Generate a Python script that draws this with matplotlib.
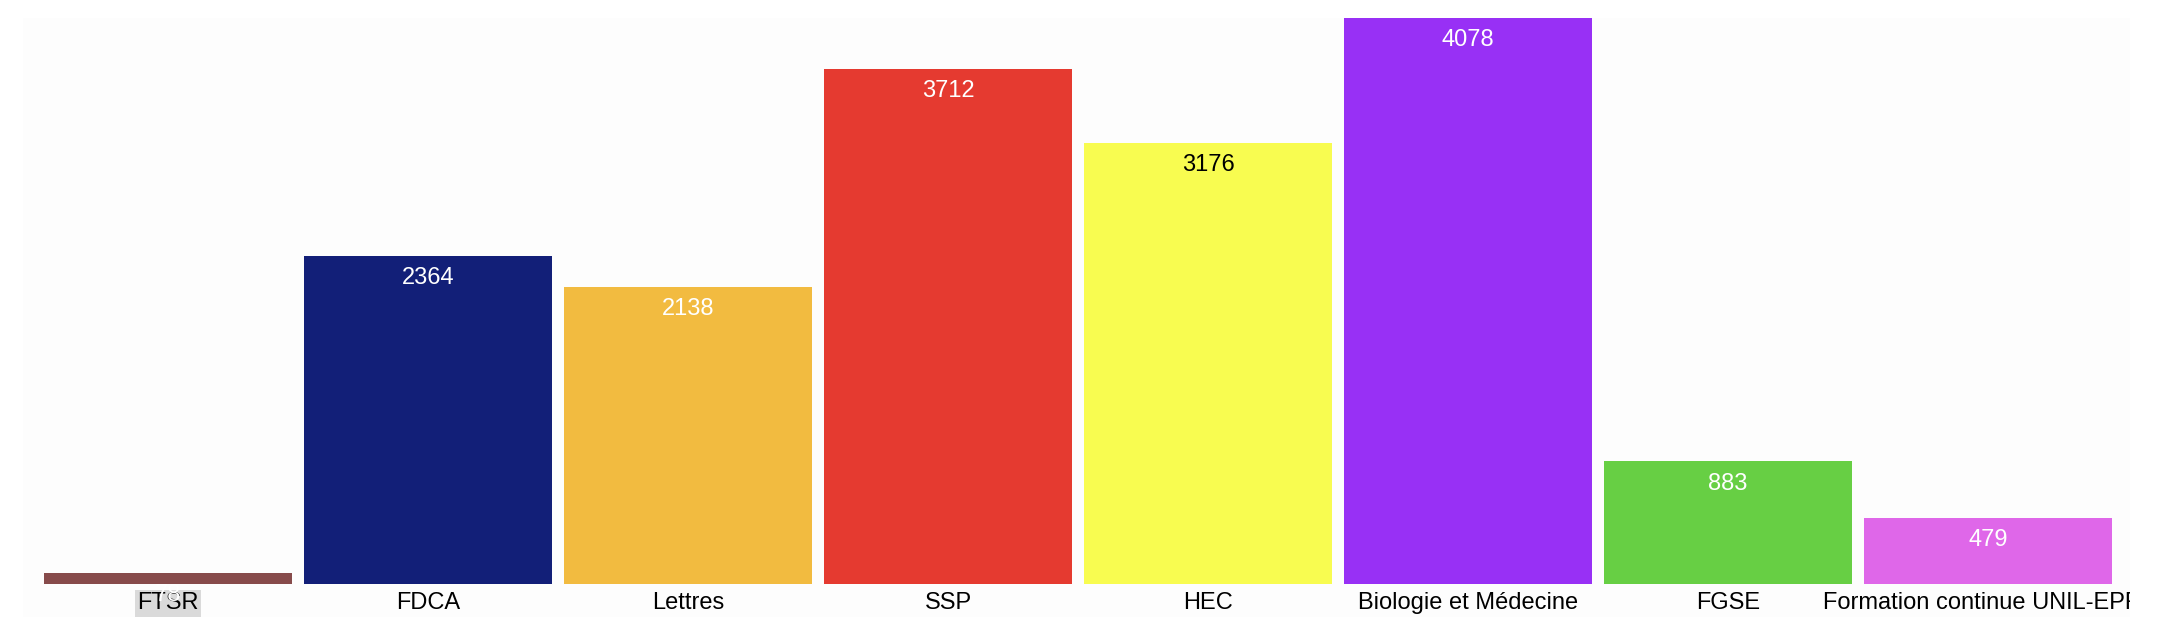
import matplotlib
matplotlib.use("Agg")
import matplotlib.pyplot as plt

plt.rcParams['font.family'] = ['Liberation Sans', 'DejaVu Sans']

facultes = ['FTSR', 'FDCA', 'Lettres', 'SSP', 'HEC', 'Biologie et Médecine',
            'FGSE', 'Formation continue UNIL-EPFL']
effectifs = [78, 2364, 2138, 3712, 3176, 4078, 883, 479]
couleurs = ['#874b4b', '#121f78', '#f2bb40', '#e53a30', '#f8fc50', '#9830f5',
            '#67cf44', '#df67e9']
couleurs_texte = ['white', 'white', 'white', 'white', 'black', 'white', 'white', 'white']

W, H = 2172, 628
fig = plt.figure(figsize=(W / 100, H / 100), dpi=100, facecolor='white')
# zone du graphique (pixels): x 23..2130, y 18..617
ax = fig.add_axes([23 / W, 1 - 617 / H, (2130 - 23) / W, (617 - 18) / H])
ax.set_facecolor('#fdfdfd')

x = list(range(len(facultes)))
ax.bar(x, effectifs, width=248 / 260, color=couleurs)

ax.set_xlim((23 - 168) / 260, (2130 - 168) / 260)
ymax = max(effectifs)
ax.set_ylim(-33 * ymax / 566, ymax)

for i, lab in enumerate(facultes):
    t = ax.annotate(lab, (i, 0), xytext=(0, -14), textcoords='offset points',
                    ha='center', va='center', fontsize=17, color='black',
                    annotation_clip=False, zorder=3)
    t.set_clip_on(True)
    t.set_clip_path(ax.patch)
    if i == 0:
        t.set_bbox(dict(facecolor='#dadada', edgecolor='none', pad=1.5))

for i, (v, c) in enumerate(zip(effectifs, couleurs_texte)):
    ax.annotate(str(v), (i, v), xytext=(0, -16), textcoords='offset points',
                ha='center', va='center', fontsize=17, color=c, zorder=4)

for s in ax.spines.values():
    s.set_visible(False)
ax.set_xticks([])
ax.set_yticks([])

fig.savefig('out.png', dpi=100, facecolor='white')
